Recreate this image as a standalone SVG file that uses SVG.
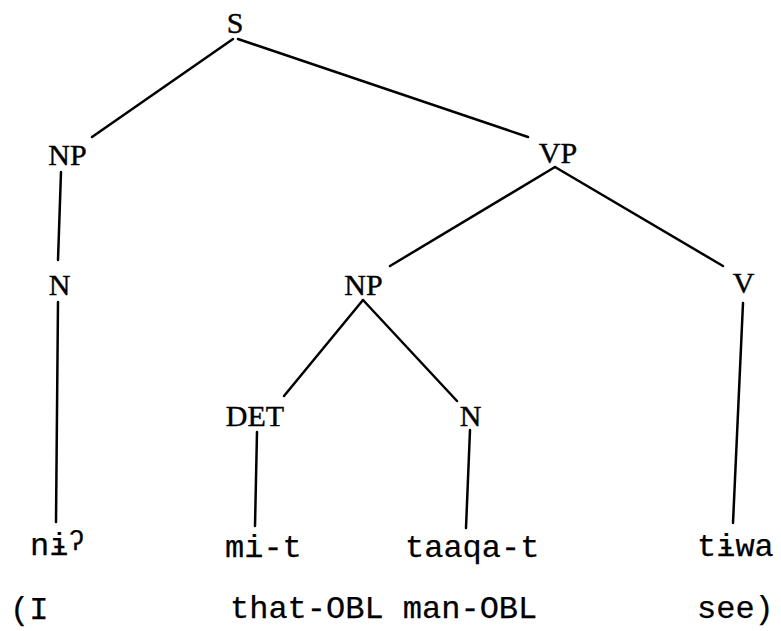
<svg xmlns="http://www.w3.org/2000/svg" width="781" height="631" viewBox="0 0 781 631">
<style>
.lab{font-family:"Liberation Serif","Times New Roman",serif;font-size:30px;fill:#000;stroke:#000;stroke-width:0.4;text-anchor:middle}
.tw{font-family:"Liberation Mono","DejaVu Sans Mono","Courier New",monospace;font-size:32px;fill:#000;stroke:#000;stroke-width:0.25}
.edge{stroke:#000;stroke-width:2.5;stroke-linecap:round;fill:none}
</style>
<rect width="781" height="631" fill="#fff"/>
<g id="connectors">
<line class="edge" x1="233" y1="39" x2="92" y2="137"/>
<line class="edge" x1="238" y1="39" x2="528" y2="137"/>
<line class="edge" x1="61" y1="172" x2="58" y2="260"/>
<line class="edge" x1="555" y1="167" x2="390" y2="266"/>
<line class="edge" x1="555" y1="167" x2="723" y2="266"/>
<line class="edge" x1="363" y1="300" x2="284" y2="396"/>
<line class="edge" x1="363" y1="300" x2="457" y2="401"/>
<line class="edge" x1="58" y1="302" x2="56" y2="522"/>
<line class="edge" x1="257" y1="432" x2="255" y2="526"/>
<line class="edge" x1="470" y1="430" x2="466" y2="528"/>
<line class="edge" x1="743" y1="303" x2="733" y2="523"/>
</g>
<g id="node-S"><text class="lab" x="235" y="33">S</text></g>
<g id="node-NP1"><text class="lab" x="67.5" y="165">NP</text></g>
<g id="node-VP"><text class="lab" x="558" y="163">VP</text></g>
<g id="node-N1"><text class="lab" x="59.5" y="295">N</text></g>
<g id="node-NP2"><text class="lab" x="363.5" y="295">NP</text></g>
<g id="node-V"><text class="lab" x="743.5" y="293">V</text></g>
<g id="node-DET"><text class="lab" x="255" y="426">DET</text></g>
<g id="node-N2"><text class="lab" x="470.5" y="426">N</text></g>
<g id="word-ni"><text class="tw" x="30" y="555">nɨ<tspan font-size="27" dy="-5">ʔ</tspan></text></g>
<g id="word-mit"><text class="tw" x="225" y="557">mi-t</text></g>
<g id="word-taaqat"><text class="tw" x="405" y="557">taaqa-t</text></g>
<g id="word-tiwa"><text class="tw" x="697" y="556">tɨwa</text></g>
<g id="gloss">
<text class="tw" x="10" y="619">(I</text>
<text class="tw" x="230" y="618">that-OBL man-OBL</text>
<text class="tw" x="697" y="618">see)</text>
</g>
</svg>
